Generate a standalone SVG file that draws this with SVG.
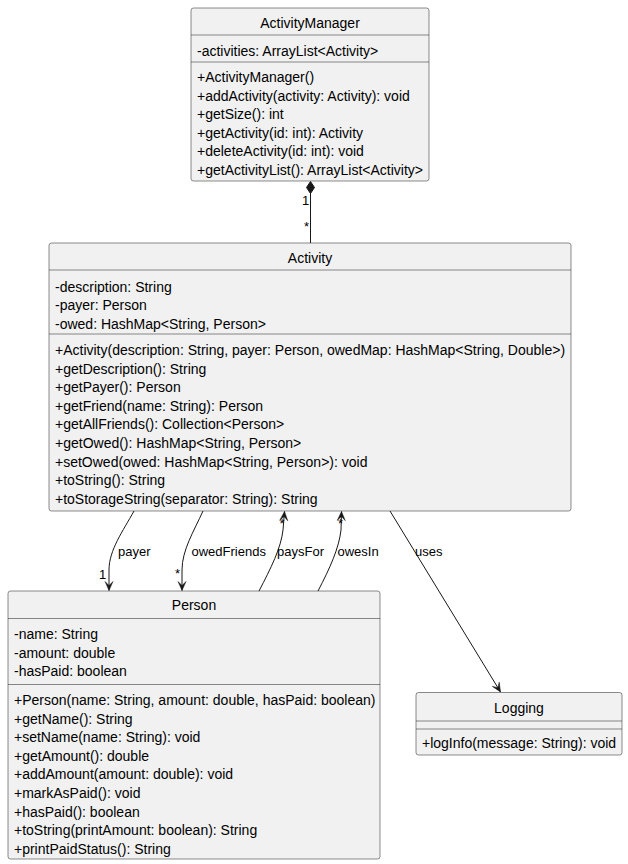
<svg xmlns="http://www.w3.org/2000/svg" width="628" height="864" viewBox="0 0 628 864">
<style>
.box{fill:#F1F1F1;stroke:#181818;stroke-width:0.5}
.sep{stroke:#181818;stroke-width:0.5}
.t{font-family:"Liberation Sans",Arial,sans-serif;font-size:14px;fill:#000}
.c{text-anchor:middle}
.l{font-family:"Liberation Sans",Arial,sans-serif;font-size:13px;fill:#000}
.e{fill:none;stroke:#181818;stroke-width:1}
</style>
<defs>
<marker id="arr" viewBox="0 0 10 10" refX="10" refY="5" markerWidth="10" markerHeight="10" markerUnits="userSpaceOnUse" orient="auto">
<polygon points="10,5 1,1 5,5 1,9" fill="#181818" stroke="#181818" stroke-width="0.5"/>
</marker>
</defs>
<g id="ActivityManager">
<rect class="box" x="191" y="8" width="238" height="173" rx="2.5"/>
<line class="sep" x1="191" y1="35" x2="429" y2="35"/>
<line class="sep" x1="191" y1="62" x2="429" y2="62"/>
<text class="t c" x="310" y="28">ActivityManager</text>
<text class="t" x="197" y="56">-activities: ArrayList&lt;Activity&gt;</text>
<text class="t" x="197" y="82">+ActivityManager()</text>
<text class="t" x="197" y="100.6">+addActivity(activity: Activity): void</text>
<text class="t" x="197" y="119.2">+getSize(): int</text>
<text class="t" x="197" y="137.8">+getActivity(id: int): Activity</text>
<text class="t" x="197" y="156.4">+deleteActivity(id: int): void</text>
<text class="t" x="197" y="175">+getActivityList(): ArrayList&lt;Activity&gt;</text>
</g>
<g id="Activity">
<rect class="box" x="49" y="243" width="522" height="268" rx="2.5"/>
<line class="sep" x1="49" y1="270" x2="571" y2="270"/>
<line class="sep" x1="49" y1="334" x2="571" y2="334"/>
<text class="t c" x="310" y="263">Activity</text>
<text class="t" x="55" y="291.5">-description: String</text>
<text class="t" x="55" y="310">-payer: Person</text>
<text class="t" x="55" y="328.5">-owed: HashMap&lt;String, Person&gt;</text>
<text class="t" x="55" y="355">+Activity(description: String, payer: Person, owedMap: HashMap&lt;String, Double&gt;)</text>
<text class="t" x="55" y="373.6">+getDescription(): String</text>
<text class="t" x="55" y="392.2">+getPayer(): Person</text>
<text class="t" x="55" y="410.8">+getFriend(name: String): Person</text>
<text class="t" x="55" y="429.4">+getAllFriends(): Collection&lt;Person&gt;</text>
<text class="t" x="55" y="448">+getOwed(): HashMap&lt;String, Person&gt;</text>
<text class="t" x="55" y="466.6">+setOwed(owed: HashMap&lt;String, Person&gt;): void</text>
<text class="t" x="55" y="485.2">+toString(): String</text>
<text class="t" x="55" y="503.8">+toStorageString(separator: String): String</text>
</g>
<g id="Person">
<rect class="box" x="8" y="591" width="372" height="268" rx="2.5"/>
<line class="sep" x1="8" y1="618.5" x2="380" y2="618.5"/>
<line class="sep" x1="8" y1="684.5" x2="380" y2="684.5"/>
<text class="t c" x="194" y="610">Person</text>
<text class="t" x="14" y="639">-name: String</text>
<text class="t" x="14" y="657.6">-amount: double</text>
<text class="t" x="14" y="676.2">-hasPaid: boolean</text>
<text class="t" x="14" y="705">+Person(name: String, amount: double, hasPaid: boolean)</text>
<text class="t" x="14" y="723.6">+getName(): String</text>
<text class="t" x="14" y="742.2">+setName(name: String): void</text>
<text class="t" x="14" y="760.8">+getAmount(): double</text>
<text class="t" x="14" y="779.4">+addAmount(amount: double): void</text>
<text class="t" x="14" y="798">+markAsPaid(): void</text>
<text class="t" x="14" y="816.6">+hasPaid(): boolean</text>
<text class="t" x="14" y="835.2">+toString(printAmount: boolean): String</text>
<text class="t" x="14" y="853.8">+printPaidStatus(): String</text>
</g>
<g id="Logging">
<rect class="box" x="416" y="692.5" width="206" height="62.5" rx="2.5"/>
<line class="sep" x1="416" y1="721" x2="622" y2="721"/>
<line class="sep" x1="416" y1="729" x2="622" y2="729"/>
<text class="t c" x="519" y="713">Logging</text>
<text class="t" x="422" y="747.5">+logInfo(message: String): void</text>
</g>
<g id="connectors">
<line class="e" x1="310.5" y1="193" x2="310.5" y2="243"/>
<polygon points="310.5,181.5 314.5,187.5 310.5,193.5 306.5,187.5" fill="#181818" stroke="#181818" stroke-width="1"/>
<text class="l" x="302" y="205">1</text>
<text class="l" x="304" y="231">*</text>
<path class="e" d="M134,511 C123,531 109,550 109,570 L109,590.5" marker-end="url(#arr)"/>
<text class="l" x="118" y="556">payer</text>
<text class="l" x="99" y="579">1</text>
<path class="e" d="M203,511 C194,531 182,550 182,570 L182,590.5" marker-end="url(#arr)"/>
<text class="l" x="191.5" y="556">owedFriends</text>
<text class="l" x="175" y="578">*</text>
<path class="e" d="M259,591 C271,568 281,548 283,530 L284.5,511.5" marker-end="url(#arr)"/>
<text class="l" x="277" y="556">paysFor</text>
<text class="l" x="279.5" y="528">*</text>
<path class="e" d="M318,591 C330,568 339,548 341,530 L341.5,511.5" marker-end="url(#arr)"/>
<text class="l" x="337.5" y="556">owesIn</text>
<text class="l" x="338" y="528">*</text>
<path class="e" d="M390,511 L500.5,692" marker-end="url(#arr)"/>
<text class="l" x="415" y="556">uses</text>
</g>
</svg>
